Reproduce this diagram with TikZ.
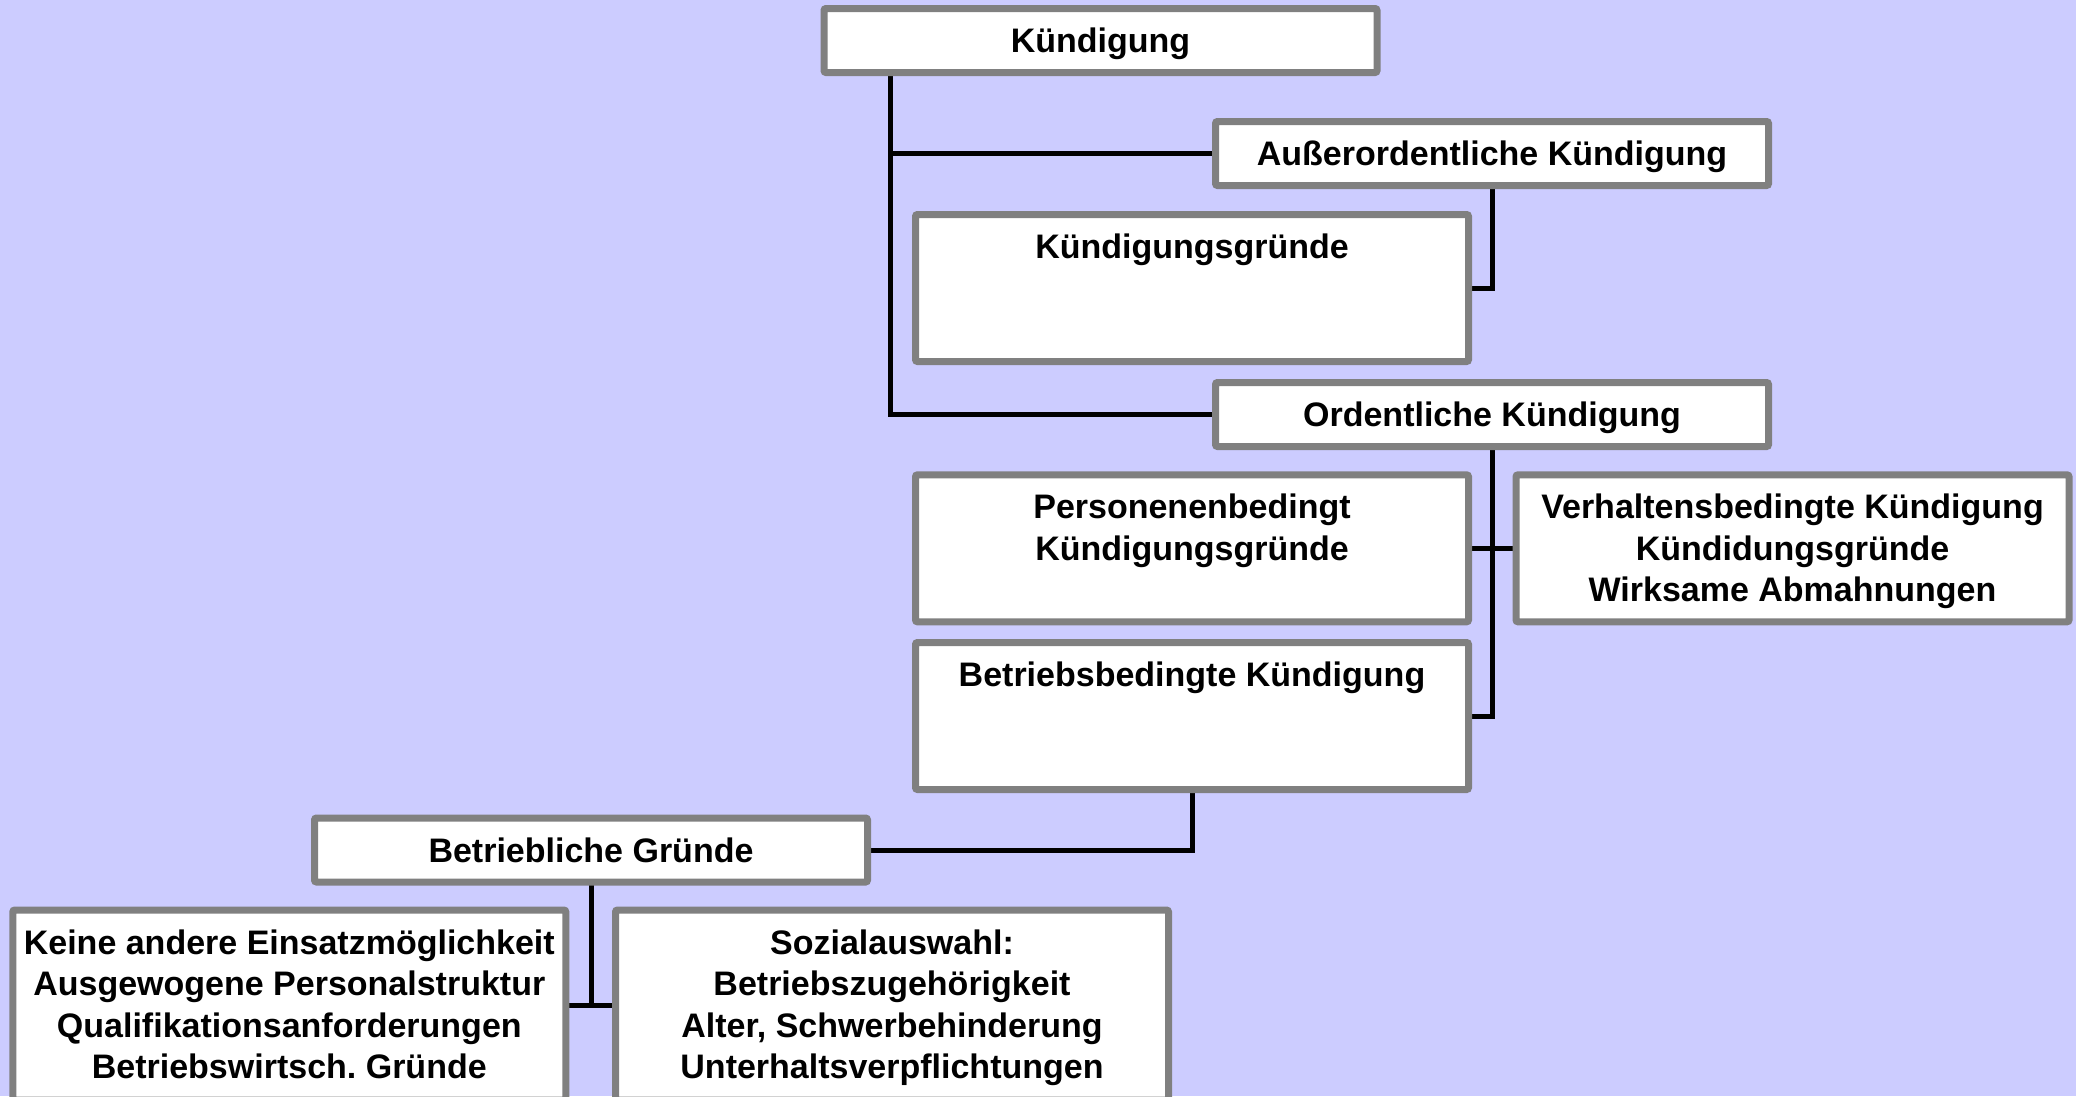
\documentclass[tikz,border=0pt]{standalone}
\usepackage{fontspec}
\setmainfont{Liberation Sans}
\frenchspacing
\definecolor{bgblue}{RGB}{204,204,255}
\definecolor{boxgray}{RGB}{128,128,128}
\pgfdeclarelayer{back}
\pgfdeclarelayer{lines}
\pgfsetlayers{back,lines,main}
\tikzset{
  box/.style={draw=boxgray, line width=7pt, fill=white, rounded corners=2pt,
    minimum width=553pt, inner sep=0pt, outer sep=0pt},
  smallbox/.style={box, minimum height=64pt},
  bigbox/.style={box, minimum height=147pt},
  tallbox/.style={box, minimum height=190pt},
  txt/.style={font=\fontsize{34}{41.5}\selectfont\bfseries, inner sep=0pt, anchor=base},
  conn/.style={line width=5pt, draw=black}
}
\newcommand{\mlines}[1]{\parbox[t]{548pt}{\centering\frenchspacing #1}}
\begin{document}
\begin{tikzpicture}[x=1pt, y=-1pt]
\useasboundingbox (0,0) rectangle (2076,1096);
\begin{pgfonlayer}{back}
  \fill[bgblue] (0,0) rectangle (2076,1096);
\end{pgfonlayer}
\clip (0,0) rectangle (2076,1096);
% boxes
\node[smallbox] (kue)   at (1100.5,40.5) {};
\node[smallbox] (auss)  at (1492,153.5) {};
\node[bigbox]   (kg)    at (1192,288) {};
\node[smallbox] (ord)   at (1492,414.5) {};
\node[bigbox]   (pers)  at (1192,548.3) {};
\node[bigbox]   (verh)  at (1792.5,548.3) {};
\node[bigbox]   (betr)  at (1192,716) {};
\node[smallbox] (bg)    at (591,850) {};
\node[tallbox]  (keine) at (289.3,1005) {};
\node[tallbox]  (soz)   at (892,1005) {};
% texts
\node[txt] (t-kue)  at ([yshift=-12pt]kue.center) {Kündigung};
\node[txt] (t-auss) at ([yshift=-12pt]auss.center) {Außerordentliche Kündigung};
\node[txt] (t-ord)  at ([yshift=-12pt]ord.center) {Ordentliche Kündigung};
\node[txt] (t-bg)   at ([yshift=-12pt]bg.center) {Betriebliche Gründe};
\node[txt] (t-kg)   at ([yshift=-44pt]kg.north) {\mlines{Kündigungsgründe}};
\node[txt] (t-pers) at ([yshift=-44pt]pers.north) {\mlines{Personenenbedingt\\Kündigungsgründe}};
\node[txt] (t-verh) at ([yshift=-44pt]verh.north) {\mlines{Verhaltensbedingte Kündigung\\Kündidungsgründe\\Wirksame Abmahnungen}};
\node[txt] (t-betr) at ([yshift=-44pt]betr.north) {\mlines{Betriebsbedingte Kündigung}};
\node[txt] (t-keine) at ([yshift=-44pt]keine.north) {\mlines{Keine andere Einsatzmöglichkeit\\Ausgewogene Personalstruktur\\Qualifikationsanforderungen\\Betriebswirtsch. Gründe}};
\node[txt] (t-soz)  at ([yshift=-44pt]soz.north) {\mlines{Sozialauswahl:\\Betriebszugehörigkeit\\Alter, Schwerbehinderung\\Unterhaltsverpflichtungen}};
% connectors
\begin{pgfonlayer}{lines}
  \coordinate (trunk) at ([xshift=-210pt]kue.south);
  \draw[conn] (trunk) |- (ord.west);
  \draw[conn] (trunk |- auss.west) -- (auss.west);
  \draw[conn] (auss.south) |- (kg.east);
  \draw[conn] (ord.south) |- (betr.east);
  \draw[conn] (pers.east) -- (verh.west);
  \draw[conn] (betr.south) |- (bg.east);
  \draw[conn] (bg.south) -- (bg.south |- keine.east);
  \draw[conn] (keine.east) -- (soz.west);
\end{pgfonlayer}
\end{tikzpicture}
\end{document}
